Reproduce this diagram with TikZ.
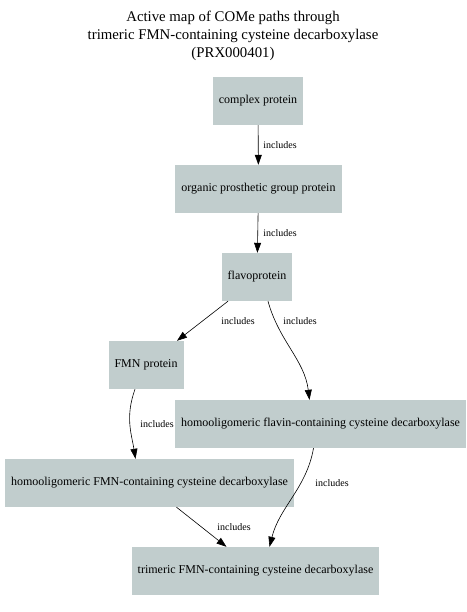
\documentclass[tikz,border=0pt]{standalone}
\usepackage{fontspec}
\setmainfont{Liberation Serif}
\usetikzlibrary{arrows.meta}
\definecolor{boxfill}{HTML}{C1CDCD}
\tikzset{
  entity/.style={fill=boxfill, rectangle, minimum height=48pt, inner xsep=6pt, font=\fontsize{12}{14}\selectfont},
  edge/.style={-{Triangle[length=10pt,width=7pt]}, line width=0.6pt},
  lbl/.style={font=\fontsize{10}{12}\selectfont, inner sep=0pt}
}
\begin{document}
\begin{tikzpicture}[x=1pt,y=-1pt]
\useasboundingbox (0,0) rectangle (466,612);
\node[align=center, font=\fontsize{14.8}{18}\selectfont] (title) at (233,36) {Active map of COMe paths through\\trimeric FMN-containing cysteine decarboxylase\\(PRX000401)};
\node[entity] (complex) at (258,101) {complex protein};
\node[entity] (organic) at (258.5,189) {organic prosthetic group protein};
\node[entity] (flavo) at (257,277) {flavoprotein};
\node[entity] (fmn) at (146,365) {FMN protein};
\node[entity] (homflavin) at (320.5,424) {homooligomeric flavin-containing cysteine decarboxylase};
\node[entity] (homfmn) at (149.5,483) {homooligomeric FMN-containing cysteine decarboxylase};
\node[entity] (trimeric) at (255.5,571) {trimeric FMN-containing cysteine decarboxylase};
\draw[edge] (complex) -- (organic);
\draw[edge] (organic) -- (flavo);
\draw[edge] ([xshift=-29pt]flavo.south) -- ([xshift=31pt]fmn.north);
\draw[edge] ([xshift=11pt]flavo.south) .. controls ([xshift=22pt,yshift=-40pt]flavo.south) and ([xshift=-16pt,yshift=40pt]homflavin.north) .. ([xshift=-11pt]homflavin.north);
\draw[edge] ([xshift=-11pt]fmn.south) .. controls ([xshift=-21pt,yshift=-28pt]fmn.south) and ([xshift=-18pt,yshift=25pt]homfmn.north) .. ([xshift=-14pt]homfmn.north);
\draw[edge] ([xshift=-7pt]homflavin.south) .. controls ([xshift=-14pt,yshift=-40pt]homflavin.south) and ([xshift=24pt,yshift=40pt]trimeric.north) .. ([xshift=14pt]trimeric.north);
\draw[edge] ([xshift=27pt]homfmn.south) -- ([xshift=-29pt]trimeric.north);
\node[lbl] (l1) at (280,145) {includes};
\node[lbl] (l2) at (280,233) {includes};
\node[lbl] (l3) at (238,321) {includes};
\node[lbl] (l4) at (300,321) {includes};
\node[lbl] (l5) at (157,424) {includes};
\node[lbl] (l6) at (332,483) {includes};
\node[lbl] (l7) at (234,527) {includes};
\end{tikzpicture}
\end{document}
